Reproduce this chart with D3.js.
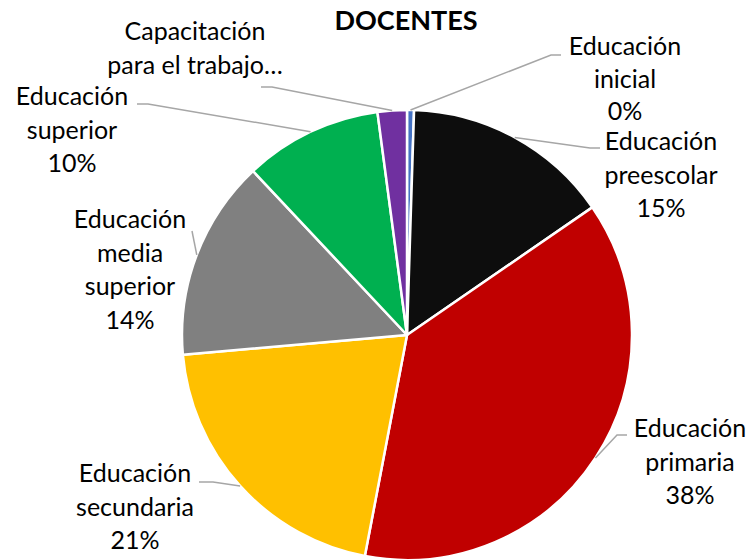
<!DOCTYPE html>
<html>
<head>
<meta charset="utf-8">
<script src="https://cdn.jsdelivr.net/npm/d3@7"></script>
<style>
  body { margin: 0; background: #fff; }
  text { font-family: Lato, "Open Sans", sans-serif; fill: #000; }
</style>
</head>
<body>
<svg id="chart" width="750" height="560"></svg>
<script>
// data
var categories = ["Educación inicial", "Educación preescolar", "Educación primaria",
    "Educación secundaria", "Educación media superior", "Educación superior",
    "Capacitación para el trabajo"];
var values = [0.5, 14.9, 37.6, 20.6, 14.4, 9.9, 2.1];
var labelLines = [
    ["Educación", "inicial", "0%"],
    ["Educación", "preescolar", "15%"],
    ["Educación", "primaria", "38%"],
    ["Educación", "secundaria", "21%"],
    ["Educación", "media", "superior", "14%"],
    ["Educación", "superior", "10%"],
    ["Capacitación", "para el trabajo…"]
];

var colors = ["#4472C4", "#0D0D0D", "#C00000", "#FFC000", "#808080", "#00B050", "#7030A0"];

// label placement (x center, first baseline, line step) and leader elbow [x, y, endX]
var labelPos = [[625, 55, 32.5], [661, 150, 33.5], [690, 437, 33.5], [135, 482, 33.5],
    [130, 228, 33.5], [72, 105, 33.5], [195, 40, 33.5]];
var leaders = [[551, 55, 561], [590, 148, 600], [617, 435, 627], [213, 482, 199], [192, 231, 192], [148, 104, 137], [272, 87, 261]];

var svg = d3.select("#chart");
var cx = 407, cy = 335, r = 225;

var pie = d3.pie().sort(null).value(function(d){ return d; });
var arc = d3.arc().innerRadius(0).outerRadius(r);
var arcs = pie(values);

var g = svg.append("g").attr("transform", "translate(" + cx + "," + cy + ")");

g.selectAll("path.slice")
    .data(arcs)
    .enter().append("path")
    .attr("class", "slice")
    .attr("d", arc)
    .attr("fill", function(d, i){ return colors[i]; })
    .attr("stroke", "#fff")
    .attr("stroke-width", 2.5)
    .attr("stroke-linejoin", "round");

// leader lines from slice edge at mid angle
arcs.forEach(function(d, i){
    var a = (d.startAngle + d.endAngle) / 2;
    var sx = cx + r * Math.sin(a), sy = cy - r * Math.cos(a);
    var L = leaders[i];
    svg.append("path")
        .attr("d", d3.line()([[sx, sy], [L[0], L[1]], [L[2], L[1]]]))
        .attr("fill", "none")
        .attr("stroke", "#A6A6A6")
        .attr("stroke-width", 1.5);
});

labelLines.forEach(function(lines, i){
    var p = labelPos[i];
    var t = svg.append("text")
        .attr("text-anchor", "middle")
        .attr("font-size", 25);
    lines.forEach(function(s, j){
        t.append("tspan")
            .attr("x", p[0])
            .attr("y", p[1] + j * p[2])
            .text(s);
    });
});

svg.append("text")
    .attr("x", 406)
    .attr("y", 30)
    .attr("text-anchor", "middle")
    .attr("font-size", 27)
    .attr("font-weight", "bold")
    .text("DOCENTES");
</script>
</body>
</html>
